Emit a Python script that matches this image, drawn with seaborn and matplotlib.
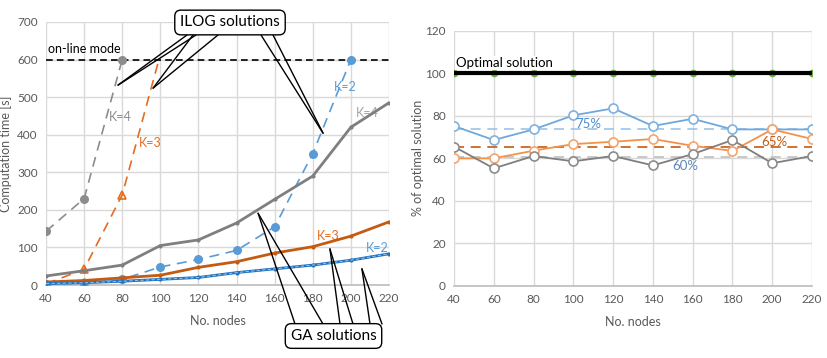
import matplotlib
matplotlib.use("Agg")
import matplotlib.pyplot as plt
import seaborn as sns
import pandas as pd

# ---------------- data ----------------
nodes = [40, 60, 80, 100, 120, 140, 160, 180, 200, 220]

ilog_k4_nodes = [40, 60, 80]
ilog_k4 = [143, 230, 600]
ilog_k3_nodes = [40, 60, 80, 99]
ilog_k3 = [3, 42, 240, 595]
ilog_k2_nodes = [40, 60, 80, 100, 120, 140, 160, 180, 200]
ilog_k2 = [2, 5, 15, 48, 68, 92, 155, 350, 600]

ga_k4 = [24, 38, 53, 105, 120, 165, 228, 290, 420, 485]
ga_k3 = [8, 12, 19, 26, 47, 62, 85, 102, 130, 168]
ga_k2 = [4, 6, 10, 15, 20, 33, 43, 53, 66, 83]
online_limit = 600

optimal = [100] * 10
pct_k2 = [75.2, 68.6, 73.6, 80.2, 83.5, 75.2, 78.6, 73.6, 73.6, 73.6]
pct_k3 = [60.0, 60.0, 63.6, 66.7, 67.8, 69.1, 65.9, 63.5, 73.6, 69.1]
pct_k4 = [65.5, 55.3, 61.1, 58.6, 61.1, 56.7, 62.0, 68.6, 57.7, 61.1]
mean_k2, mean_k3, mean_k4 = 73.6, 65.5, 60.5

# ---------------- style ----------------
sns.set_theme(style="whitegrid")
plt.rcParams["font.family"] = ["Lato", "DejaVu Sans"]
TXT = "#595959"
GRID = "#D9D9D9"

fig = plt.figure(figsize=(8.27, 3.58), dpi=100)
W, H = 827, 358
axL = fig.add_axes([46 / W, (H - 285) / H, 343 / W, 263 / H])
axR = fig.add_axes([454 / W, (H - 286) / H, 358 / W, 255.3 / H])

def style_axis(ax, ymax, ystep, ylabel, ylab_x):
    ax.set_xlim(40, 220)
    ax.set_ylim(0, ymax)
    ax.set_xticks(range(40, 221, 20))
    ax.set_yticks(range(0, ymax + 1, ystep))
    ax.grid(True, color=GRID, lw=1)
    for s in ["top", "right", "left"]:
        ax.spines[s].set_visible(False)
    ax.spines["bottom"].set_color("#BFBFBF")
    ax.tick_params(axis="both", colors=TXT, labelsize=8.5, length=0, pad=6)
    ax.set_xlabel("No. nodes", color=TXT, fontsize=9, labelpad=8)
    ax.set_ylabel(ylabel, color=TXT, fontsize=9)
    ax.yaxis.set_label_coords(ylab_x, 0.5)
    ax.set_facecolor("white")

style_axis(axL, 700, 100, "Computation time [s]", -0.098)
style_axis(axR, 120, 20, "% of optimal solution", -0.083)

dash = (0, (6, 4))

# ---------------- left chart ----------------
axL.axhline(online_limit, color="black", lw=1.2, ls=(0, (4, 2.5)), zorder=2)
axL.text(41, 628, "on-line mode", fontsize=9, color="black", ha="left", va="center")

sns.lineplot(x=ilog_k4_nodes, y=ilog_k4, ax=axL, color="#8C8C8C", lw=1.2, ls=dash,
             marker="o", markersize=6.5, markeredgewidth=0, zorder=3)
sns.lineplot(x=ilog_k3_nodes, y=ilog_k3, ax=axL, color="#E46C20", lw=1.2, ls=dash,
             marker="^", markersize=6, markerfacecolor="none", markeredgecolor="#E46C20",
             markeredgewidth=1.2, markevery=[0, 1, 2], zorder=3)
sns.lineplot(x=ilog_k2_nodes, y=ilog_k2, ax=axL, color="#5B9BD5", lw=1.2, ls=dash,
             marker="o", markersize=6.5, markeredgewidth=0, zorder=3)

sns.lineplot(x=nodes, y=ga_k4, ax=axL, color="#7F7F7F", lw=2, marker="o",
             markersize=3, markeredgewidth=0, zorder=4)
sns.lineplot(x=nodes, y=ga_k3, ax=axL, color="#C55A11", lw=2, marker="o",
             markersize=3, markeredgewidth=0, zorder=4)
sns.lineplot(x=nodes, y=ga_k2, ax=axL, color="#1F72C0", lw=2, marker="o",
             markersize=3, markeredgewidth=0, zorder=4)
sns.lineplot(x=nodes, y=ga_k2, ax=axL, color="#8FBCE6", lw=0.8, ls=(0, (3, 2)), zorder=5)

axL.text(73, 447, "K=4", color="#8C8C8C", fontsize=9, ha="left", va="center")
axL.text(88.5, 378, "K=3", color="#E46C20", fontsize=9, ha="left", va="center")
axL.text(197, 527, "K=2", color="#5B9BD5", fontsize=9, ha="center", va="center")
axL.text(208.5, 457, "K=4", color="#A5A5A5", fontsize=9, ha="center", va="center")
axL.text(188, 131, "K=3", color="#E46C20", fontsize=9, ha="center", va="center")
axL.text(214, 98, "K=2", color="#5B9BD5", fontsize=9, ha="center", va="center")

# callouts (figure pixels, origin at bottom-left)
def fp(x, y):
    return (x, H - y)

fig.text(230 / W, (H - 22.5) / H, "ILOG solutions", fontsize=11, color="black",
         ha="center", va="center", zorder=10,
         bbox=dict(boxstyle="round,pad=0.35,rounding_size=0.4", fc="white", ec="black", lw=1))
fig.text(333.5 / W, (H - 336) / H, "GA solutions", fontsize=11, color="black",
         ha="center", va="center", zorder=10,
         bbox=dict(boxstyle="round,pad=0.35,rounding_size=0.4", fc="white", ec="black", lw=1))

ilog_tips = [((77.8, 532), [(187, 35), (196, 35)]),
             ((96.2, 524), [(193, 35), (218, 35)]),
             ((185.4, 404), [(261, 35), (273, 35)])]
ga_tips = [((151.3, 191), [(295, 324), (323, 324)]),
           ((189, 96), [(340, 324), (353, 324)]),
           ((205.8, 43), [(370, 324), (382, 324)])]
for tip, bases in ilog_tips + ga_tips:
    for b in bases:
        axL.annotate("", xy=tip, xycoords="data", xytext=fp(*b), textcoords="figure pixels",
                     arrowprops=dict(arrowstyle="-", color="black", lw=1,
                                     shrinkA=0, shrinkB=0), zorder=9, annotation_clip=False)

# ---------------- right chart ----------------
axR.axhline(mean_k2, color="#9DC3E6", lw=1.2, ls=dash, zorder=2)
axR.axhline(mean_k3, color="#C55A11", lw=1.2, ls=dash, zorder=2)
axR.axhline(mean_k4, color="#BFBFBF", lw=1.2, ls=dash, zorder=2)

sns.lineplot(x=nodes, y=optimal, ax=axR, color="black", lw=3, zorder=3)
sns.lineplot(x=nodes, y=optimal, ax=axR, color="#70AD47", lw=0, marker="o",
             markersize=5.5, markeredgewidth=0, zorder=2.5)

mk = dict(marker="o", markersize=6.5, markerfacecolor="white", markeredgewidth=1.2, lw=1.3)
sns.lineplot(x=nodes, y=pct_k2, ax=axR, color="#6FA8DC", markeredgecolor="#7EB3E0", zorder=4, **mk)
sns.lineplot(x=nodes, y=pct_k3, ax=axR, color="#F4914A", markeredgecolor="#F4A46E", zorder=4, **mk)
sns.lineplot(x=nodes, y=pct_k4, ax=axR, color="#7F7F7F", markeredgecolor="#8C8C8C", zorder=4, **mk)

axR.text(41, 104.8, "Optimal solution", fontsize=9.5, color="black", ha="left", va="center",
         zorder=6, bbox=dict(boxstyle="square,pad=0.1", fc="white", ec="none"))
axR.text(107.7, 76.3, "75%", color="#4A8BD0", fontsize=9.5, ha="center", va="center", zorder=6)
axR.text(200.9, 67.8, "65%", color="#C55A11", fontsize=9.5, ha="center", va="center", zorder=6)
axR.text(156.5, 56.3, "60%", color="#5F86B3", fontsize=9.5, ha="center", va="center", zorder=6)

for ax in (axL, axR):
    leg = ax.get_legend()
    if leg:
        leg.remove()

fig.savefig("out.png", dpi=100, facecolor="white")
